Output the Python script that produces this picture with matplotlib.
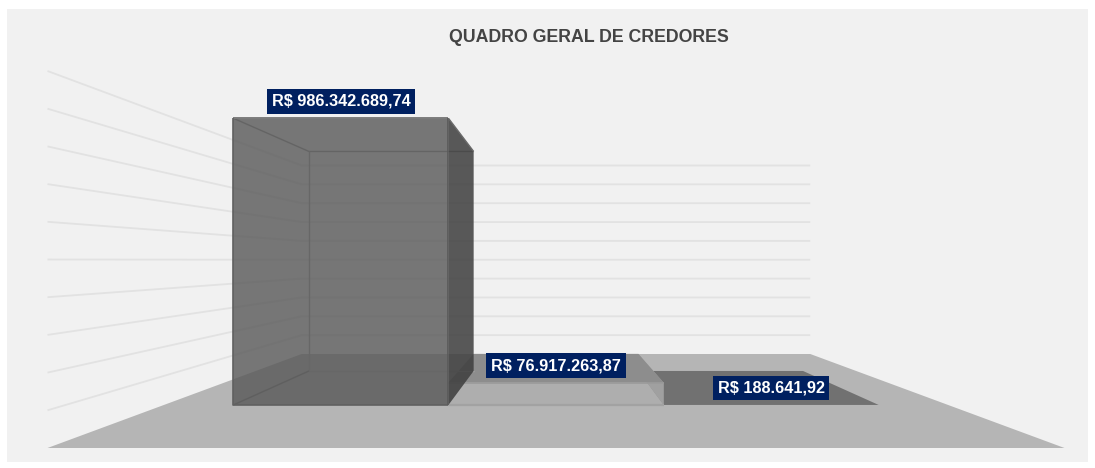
import matplotlib
matplotlib.use("Agg")
import matplotlib.pyplot as plt
from matplotlib.patches import Polygon, Rectangle

plt.rcParams['font.family'] = ['Liberation Sans', 'DejaVu Sans']

TITLE = "QUADRO GERAL DE CREDORES"
values = [986342689.74, 76917263.87, 188641.92]
gridValues = [i * 100000000 for i in range(1, 11)]

# the chart is a perspective box, everything goes through project()
VANISH_X = 556.0
HORIZON_Y = 260.0
FLOOR_DROP = 188.0           # floor front edge below the horizon, px
PX_PER_VALUE = 377.0 / 1e9   # at depth 0
CAT_WIDTH = 279.0            # at depth 0
BOX_HALF = 1017.0 / CAT_WIDTH / 2  # floor half width in categories
BAR_FRONT = 0.297
BAR_BACK = 0.694
BACK_WALL = 1.0


def project(cat, value, depth):
    """cat is relative to the middle bar, depth 0 is the front of the floor"""
    s = 1.0 / (1.0 + depth)
    x = VANISH_X + cat * CAT_WIDTH * s
    y = HORIZON_Y + (FLOOR_DROP - value * PX_PER_VALUE) * s
    return x, y


def face(ax, pts, color, alpha=1.0, z=2):
    ax.add_patch(Polygon([project(*p) for p in pts], closed=True, facecolor=color,
                         alpha=alpha, edgecolor='none', linewidth=0, zorder=z))


def wire(ax, pts, color, z, lw=1.0):
    xy = [project(*p) for p in pts]
    ax.plot([p[0] for p in xy], [p[1] for p in xy], color=color, lw=lw, zorder=z,
            solid_capstyle='butt')


def drawTallBar(ax, cat, value, z):
    l, r = cat - 0.5, cat + 0.5
    f, b = BAR_FRONT, BAR_BACK
    # inner edges, they get softened by the faces on top of them
    wire(ax, [(l, value, f), (l, value, b), (r, value, b)], '#9a9a9a', z)
    wire(ax, [(l, value, b), (l, 0, b), (r, 0, b)], '#a8a8a8', z)
    wire(ax, [(l, 0, f), (l, 0, b)], '#808080', z)
    # right side
    face(ax, [(r, 0, f), (r, 0, b), (r, value, b), (r, value, f)], '#3d3d3d', 0.85, z + 0.1)
    # front face + the top face merged in one translucent sheet
    face(ax, [(l, 0, f), (r, 0, f), (r, value, f), (l, value, f)], '#575757', 0.8, z + 0.2)
    wire(ax, [(l, value, f), (r, value, f)], '#7c7c7c', z + 0.3, 1.4)
    wire(ax, [(l, value, f), (l, 0, f), (r, 0, f)], '#606060', z + 0.3, 1.2)
    wire(ax, [(r, 0, f), (r, value, f)], '#5a5a5a', z + 0.3, 1.2)
    wire(ax, [(r, value, f), (r, value, b)], '#6a6a6a', z + 0.3)


def drawLowBar(ax, cat, value, z):
    l, r = cat - 0.5, cat + 0.5
    f, b = BAR_FRONT, BAR_BACK
    # floor of the bar, seen through the front
    face(ax, [(l, 0, f), (r, 0, f), (r, 0, b), (l, 0, b)], '#c4c4c4', 1.0, z)
    face(ax, [(r, 0, f), (r, 0, b), (r, value, b), (r, value, f)], '#a0a0a0', 1.0, z + 0.1)
    face(ax, [(l, value, f), (r, value, f), (r, value, b), (l, value, b)], '#8d8d8d', 1.0, z + 0.1)
    face(ax, [(l, 0, f), (r, 0, f), (r, value, f), (l, value, f)], '#a0a0a0', 0.6, z + 0.2)
    wire(ax, [(l, value, f), (r, value, f)], '#9a9a9a', z + 0.3, 1.2)
    wire(ax, [(l, 0, f), (r, 0, f)], '#a2a2a2', z + 0.3, 1.6)


def drawFlatBar(ax, cat, z):
    l, r = cat - 0.5, cat + 0.5
    face(ax, [(l, 0, BAR_FRONT), (r, 0, BAR_FRONT), (r, 0, BAR_BACK), (l, 0, BAR_BACK)],
         '#717171', 1.0, z)


def brl(value):
    txt = "{:,.2f}".format(value).replace(",", "#").replace(".", ",").replace("#", ".")
    return "R$ " + txt


fig = plt.figure(figsize=(10.95, 4.68), dpi=100, facecolor='white')
ax = fig.add_axes([0, 0, 1, 1])
ax.set_xlim(0, 1095)
ax.set_ylim(468, 0)
ax.axis('off')

ax.add_patch(Rectangle((7, 9), 1081, 453, facecolor='#f1f1f1', edgecolor='none', zorder=0))

# floor
face(ax, [(-BOX_HALF, 0, 0), (BOX_HALF, 0, 0), (BOX_HALF, 0, BACK_WALL), (-BOX_HALF, 0, BACK_WALL)],
     '#b5b5b5', 1.0, 1)

# grid on left wall and back wall
for v in gridValues:
    pts = [(-BOX_HALF, v, 0), (-BOX_HALF, v, BACK_WALL), (BOX_HALF, v, BACK_WALL)]
    wire(ax, pts, '#e2e2e2', 1, 1.3)

drawFlatBar(ax, 1, 3)
drawLowBar(ax, 0, values[1], 4)
drawTallBar(ax, -1, values[0], 5)

for i, v in enumerate(values):
    x, y = project(i - 1, v, BAR_FRONT)
    ax.annotate(brl(v), (x, y), xytext=(0, 9.5), textcoords='offset pixels', ha='center', va='bottom',
                color='white', fontsize=11.7, fontweight='bold', zorder=10,
                bbox=dict(boxstyle='square,pad=0.3', facecolor='#002060', edgecolor='none'))

ax.text(588.5, 37, TITLE, ha='center', va='center', fontsize=12.8, fontweight='bold', color='#444444')

fig.savefig("out.png", dpi=100, facecolor='white')
